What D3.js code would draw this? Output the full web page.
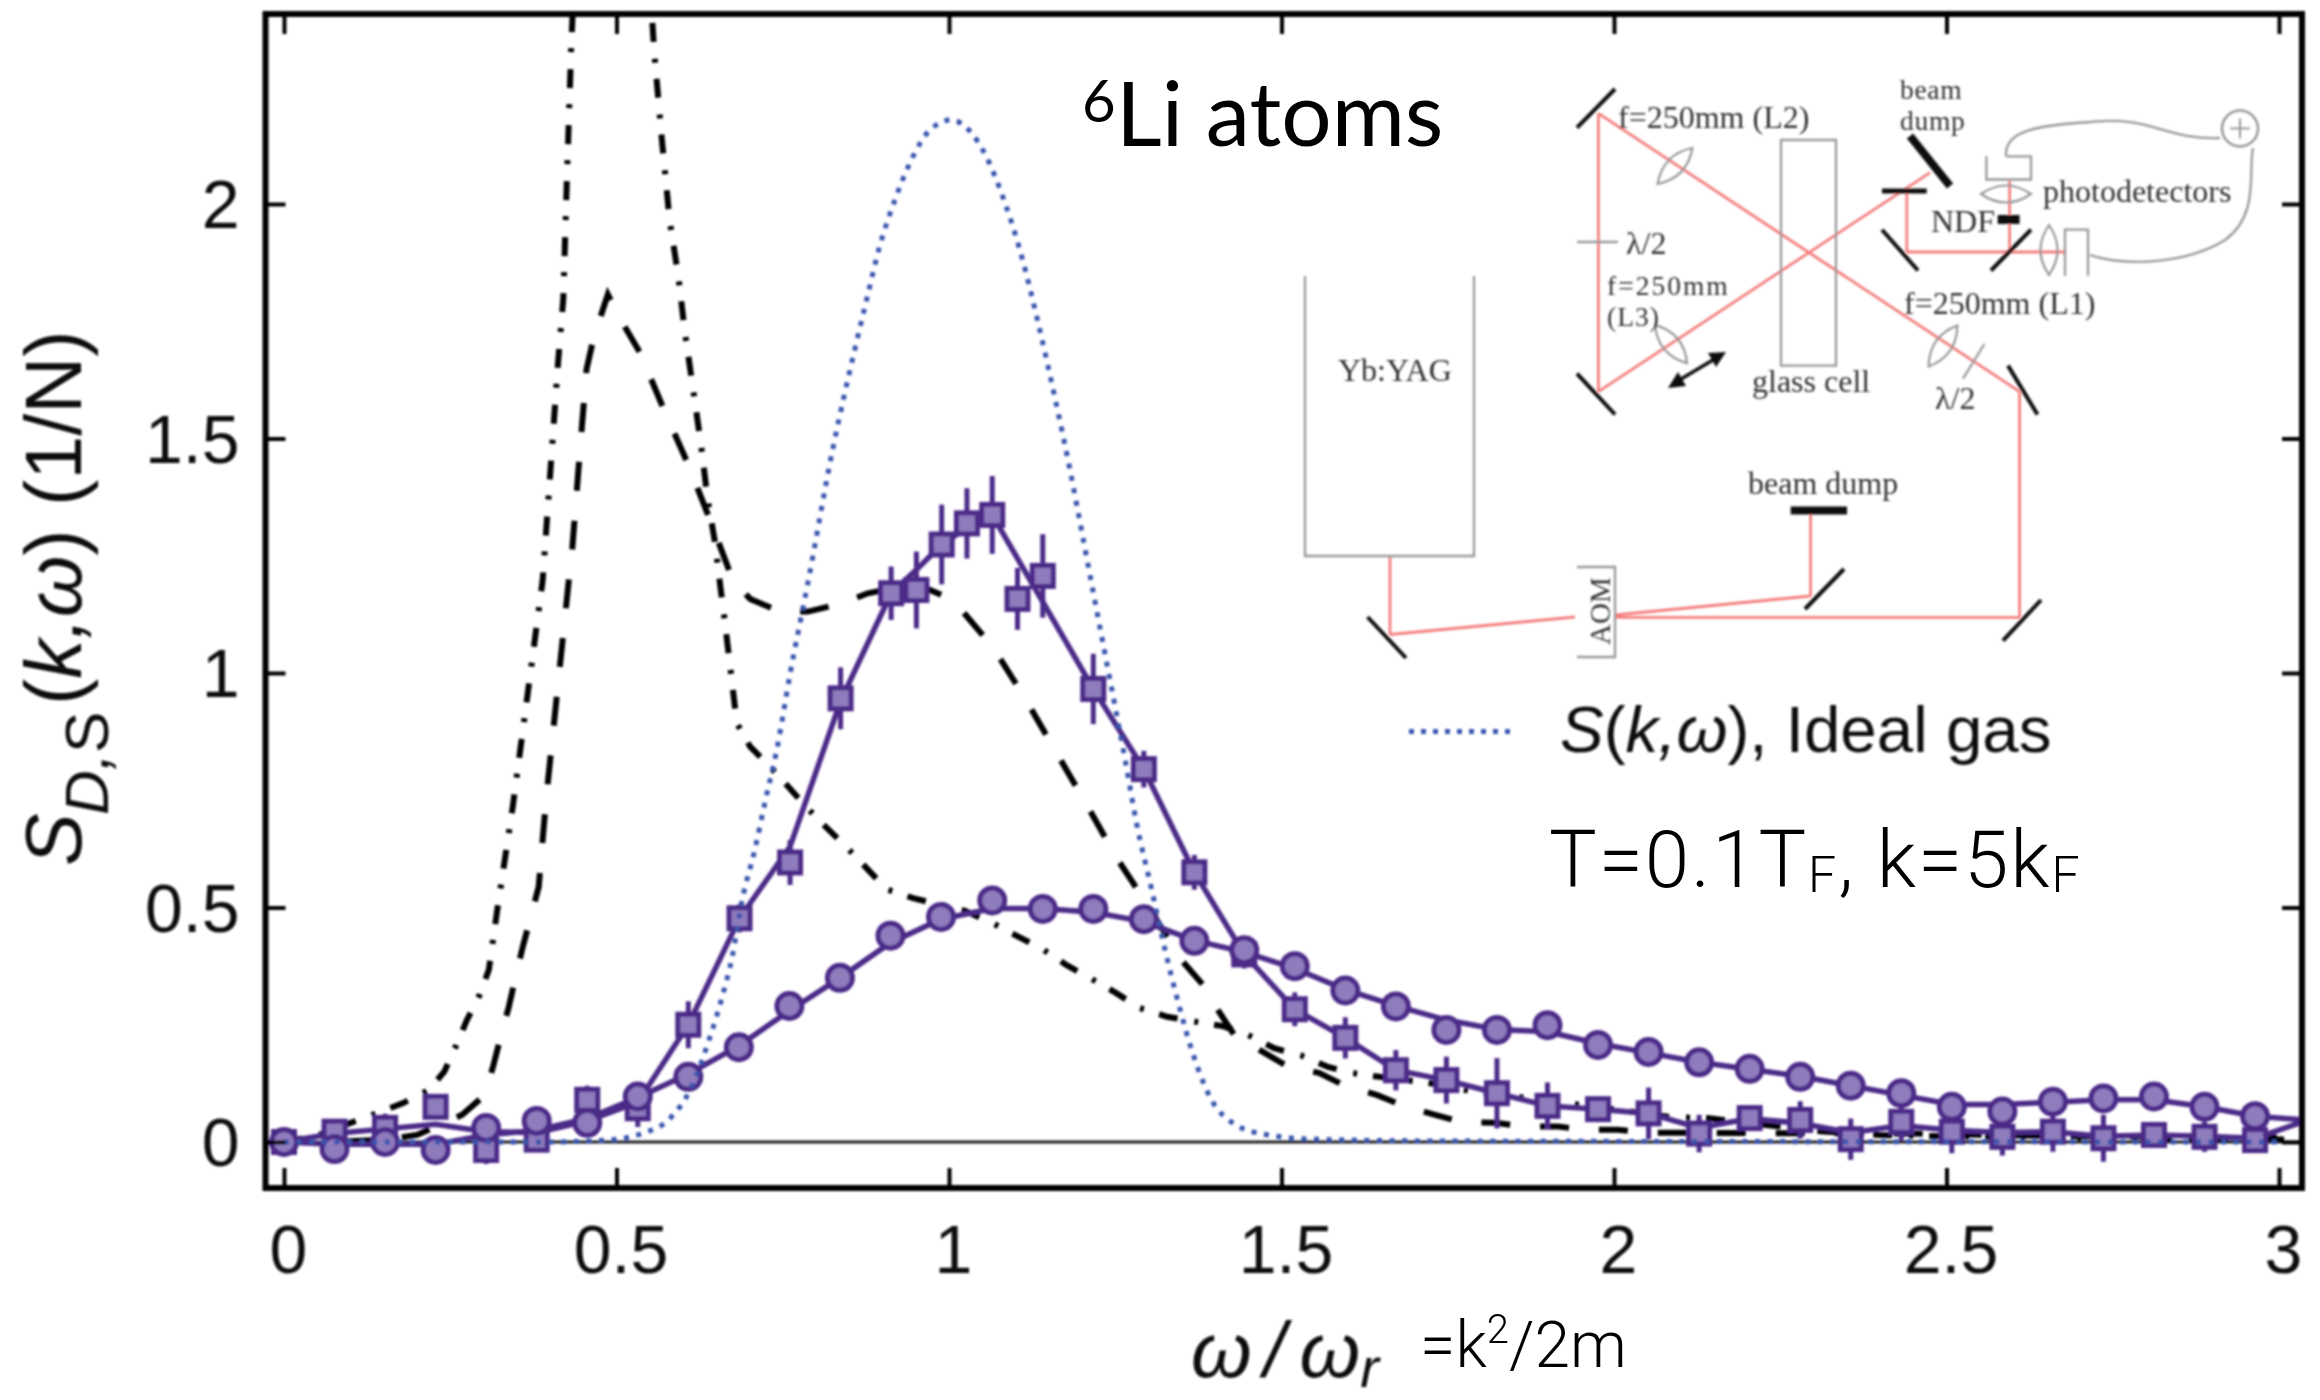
<!DOCTYPE html>
<meta charset="utf-8">
<style>
body { margin: 0; background: #fff; }
svg { display: block; }
.tick text { font-family: "Liberation Sans", sans-serif; font-size: 68px; fill: #111; }
.tick line { stroke: #000; stroke-width: 4; }
.diagram text { font-family: "Liberation Serif", serif; font-size: 32px; fill: #333; }
</style>
<svg width="2320" height="1400"></svg>
<script src="https://d3js.org/d3.v7.min.js"></script>
<script>

// values
var xTicks = [0, 0.5, 1, 1.5, 2, 2.5, 3];
var xTickLabels = ["0", "0.5", "1", "1.5", "2", "2.5", "3"];
var yTicks = [0, 0.5, 1, 1.5, 2];
var yTickLabels = ["0", "0.5", "1", "1.5", "2"];

var circleX = [0, .076, .152, .228, .304, .38, .456, .532, .608, .684, .76, .836, .912, .988, 1.065, 1.141, 1.217, 1.293, 1.369, 1.444, 1.52, 1.596, 1.672, 1.748, 1.824, 1.9, 1.976, 2.052, 2.128, 2.204, 2.28, 2.356, 2.432, 2.508, 2.584, 2.66, 2.736, 2.812, 2.888, 2.964];
var circleY = [0, -.015, 0, -.017, .03, .045, .041, .097, .139, .202, .29, .35, .44, .48, .515, .497, .497, .475, .429, .409, .375, .323, .289, .239, .239, .249, .207, .192, .17, .156, .139, .12, .104, .075, .065, .086, .093, .097, .075, .055];
var circleLineX = [0, .076, .152, .228, .304, .38, .456, .532, .608, .684, .76, .836, .912, .988, 1.065, 1.141, 1.217, 1.293, 1.369, 1.444, 1.52, 1.596, 1.672, 1.748, 1.824, 1.9, 1.976, 2.052, 2.128, 2.204, 2.28, 2.356, 2.432, 2.508, 2.584, 2.66, 2.736, 2.812, 2.888, 2.964, 3.04];
var circleLineY = [0, -.005, -.005, -.005, .015, .025, .05, .095, .145, .205, .28, .35, .425, .475, .498, .498, .49, .47, .43, .405, .37, .325, .29, .26, .24, .235, .21, .19, .17, .155, .14, .12, .1, .08, .08, .085, .09, .09, .075, .055, .047];

var squareX = [0, .076, .152, .228, .304, .38, .456, .532, .608, .685, .761, .837, .913, .951, .989, 1.027, 1.065, 1.103, 1.141, 1.217, 1.293, 1.369, 1.444, 1.52, 1.596, 1.672, 1.748, 1.824, 1.9, 1.976, 2.052, 2.128, 2.204, 2.28, 2.356, 2.432, 2.508, 2.584, 2.66, 2.736, 2.812, 2.888, 2.964];
var squareY = [0, .022, .03, .075, -.017, .005, .09, .072, .25, .477, .596, .946, 1.17, 1.177, 1.274, 1.319, 1.337, 1.158, 1.207, .966, .795, .575, .4, .283, .222, .153, .132, .104, .077, .07, .061, .018, .051, .047, .006, .043, .022, .011, .022, .008, .015, .011, .004];
var squareErr = [.01, .02, .03, .02, .03, .02, .03, .04, .05, .03, .048, .066, .057, .082, .085, .075, .083, .066, .089, .075, .039, .037, .03, .036, .044, .043, .05, .075, .05, .02, .055, .04, .02, .04, .044, .04, .046, .04, .043, .05, .02, .032, .02];
var squareLineX = [0, .076, .152, .228, .304, .38, .456, .532, .608, .685, .761, .837, .913, .951, .989, 1.027, 1.065, 1.217, 1.293, 1.369, 1.444, 1.52, 1.596, 1.672, 1.748, 1.824, 1.9, 1.976, 2.052, 2.128, 2.204, 2.28, 2.356, 2.432, 2.508, 2.584, 2.66, 2.736, 2.812, 2.888, 2.964, 3.04];
var squareLineY = [0, .018, .028, .038, .022, .02, .045, .085, .25, .477, .63, .94, 1.17, 1.22, 1.274, 1.31, 1.337, .966, .795, .575, .4, .283, .222, .153, .132, .104, .077, .07, .061, .03, .05, .04, .02, .035, .025, .02, .022, .012, .015, .012, .008, .045];

var dashedX = [0, .076, .152, .2, .268, .302, .315, .326, .338, .348, .359, .371, .383, .394, .428, .433, .444, .455, .466, .487, .511, .535, .57, .608, .64, .675, .701, .746, .788, .838, .878, .95, 1.006, 1.066, 1.114, 1.162, 1.207, 1.252, 1.277, 1.352, 1.382, 1.406, 1.429, 1.472, 1.506, 1.557, 1.597, 1.644, 1.684, 1.731, 1.771, 1.822, 1.862, 1.916, 1.956, 2.006, 2.046, 2.2, 2.45, 2.7, 3.03];
var dashedY = [0, 0, .005, .015, .058, .1, .164, .225, .288, .35, .416, .48, .544, .729, 1.194, 1.256, 1.456, 1.648, 1.717, 1.807, 1.742, 1.684, 1.566, 1.444, 1.329, 1.198, 1.158, 1.131, 1.131, 1.148, 1.17, 1.19, 1.156, 1.055, .947, .829, .719, .606, .552, .384, .335, .278, .228, .192, .164, .147, .119, .1, .077, .058, .042, .041, .033, .033, .026, .026, .02, .019, .018, .012, .01];

var dashdotX = [0, .049, .091, .141, .179, .218, .241, .258, .275, .294, .308, .32, .344, .389, .401, .412, .42, .425, .432, .44, .545, .554, .557, .568, .58, .593, .603, .615, .627, .637, .648, .656, .661, .671, .681, .701, .731, .758, .787, .816, .847, .876, .906, .946, 1.024, 1.065, 1.104, 1.14, 1.177, 1.214, 1.251, 1.286, 1.328, 1.369, 1.412, 1.45, 1.489, 1.529, 1.57, 1.607, 1.647, 1.721, 1.775, 2.03, 2.084, 2.14, 2.31, 2.4, 2.5, 3.03];
var dashdotY = [0, .013, .036, .062, .083, .111, .15, .203, .26, .313, .367, .488, .715, 1.198, 1.439, 1.66, 1.798, 2.035, 2.339, 2.6, 2.6, 2.386, 2.32, 2.141, 1.964, 1.846, 1.725, 1.607, 1.488, 1.371, 1.28, 1.186, 1.132, 1.013, .893, .843, .8, .758, .712, .67, .627, .584, .539, .52, .493, .467, .438, .412, .377, .348, .318, .286, .267, .257, .247, .228, .2, .185, .16, .147, .139, .126, .111, .064, .053, .051, .023, .015, .012, .005];

var idealX = [0, .394, .486, .54, .578, .613, .639, .659, .674, .689, .708, .724, .741, .761, .787, .826, .842, .859, .877, .895, .919, .949, .97, 1.003, 1.034, 1.055, 1.084, 1.107, 1.135, 1.16, 1.182, 1.202, 1.222, 1.245, 1.265, 1.282, 1.305, 1.325, 1.345, 1.365, 1.392, 1.432, 1.48, 1.547, 1.75, 3];
var idealY = [0, 0, .004, .019, .047, .118, .217, .31, .395, .516, .623, .729, .836, .998, 1.186, 1.483, 1.589, 1.694, 1.801, 1.906, 2.01, 2.11, 2.156, 2.179, 2.151, 2.104, 2.003, 1.9, 1.741, 1.582, 1.433, 1.284, 1.134, .964, .814, .68, .537, .409, .296, .196, .097, .036, .015, .006, .002, 0];

var purple = "#4b2a88", lilac = "#8f7cbd", blue = "#3a55ad", red = "#f47f7f", grey = "#999";

var svg = d3.select("svg");

var left = 265.5, right = 2302, top_ = 14, bottom = 1188;
var x = d3.scaleLinear().domain([0, 3]).range([284, 2279]);
var y = d3.scaleLinear().domain([0, 2]).range([1142, 204]);

var defs = svg.append("defs");
defs.append("clipPath").attr("id", "frame")
  .append("rect").attr("x", left).attr("y", top_).attr("width", right - left).attr("height", bottom - top_);
// the reference is a soft raster, this takes the hard edge off
defs.append("filter").attr("id", "soft")
  .append("feGaussianBlur").attr("stdDeviation", 0.9);

var chart = svg.append("g").attr("filter", "url(#soft)");

var pairs = function(xs, ys) { return xs.map(function(d, i) { return [d, ys[i]]; }); };
var line = d3.line().x(function(d) { return x(d[0]); }).y(function(d) { return y(d[1]); });

var plot = chart.append("g").attr("clip-path", "url(#frame)");

plot.append("line")
    .attr("x1", left).attr("x2", right).attr("y1", y(0)).attr("y2", y(0))
    .attr("stroke", "#222").attr("stroke-width", 3);

plot.append("path").attr("d", line(pairs(dashedX, dashedY)))
    .attr("fill", "none").attr("stroke", "#000").attr("stroke-width", 6)
    .attr("stroke-dasharray", "29 30");

plot.append("path").attr("d", line(pairs(dashdotX, dashdotY)))
    .attr("fill", "none").attr("stroke", "#000").attr("stroke-width", 6)
    .attr("stroke-dasharray", "19 17 4 16");

// squares
plot.append("path").attr("d", line(pairs(squareLineX, squareLineY)))
    .attr("fill", "none").attr("stroke", purple).attr("stroke-width", 5.5);

var squares = pairs(squareX, squareY).map(function(d, i) { return {x: d[0], y: d[1], e: squareErr[i]}; });

plot.append("g").selectAll("line").data(squares).enter().append("line")
    .attr("x1", function(d) { return x(d.x); })
    .attr("x2", function(d) { return x(d.x); })
    .attr("y1", function(d) { return y(d.y + d.e); })
    .attr("y2", function(d) { return y(d.y - d.e); })
    .attr("stroke", purple).attr("stroke-width", 5);

plot.append("g").selectAll("rect").data(squares).enter().append("rect")
    .attr("x", function(d) { return x(d.x) - 10.5; })
    .attr("y", function(d) { return y(d.y) - 10.5; })
    .attr("width", 21).attr("height", 21)
    .attr("fill", lilac).attr("stroke", purple).attr("stroke-width", 5);

// circles
plot.append("path").attr("d", line(pairs(circleLineX, circleLineY)))
    .attr("fill", "none").attr("stroke", purple).attr("stroke-width", 5.5);

plot.append("g").selectAll("circle").data(pairs(circleX, circleY)).enter().append("circle")
    .attr("cx", function(d) { return x(d[0]); })
    .attr("cy", function(d) { return y(d[1]); })
    .attr("r", 12.5)
    .attr("fill", lilac).attr("stroke", purple).attr("stroke-width", 5);

// ideal gas goes over everything
plot.append("path")
    .attr("d", d3.line().curve(d3.curveMonotoneX).x(function(d) { return x(d[0]); }).y(function(d) { return y(d[1]); })(pairs(idealX, idealY)))
    .attr("fill", "none").attr("stroke", blue).attr("stroke-width", 5)
    .attr("stroke-dasharray", "5 7.6");

// axes, ticks point inwards on all four sides
var xAxis = d3.axisBottom(x).tickValues(xTicks).tickSizeInner(-20).tickSizeOuter(0)
    .tickFormat(function(d, i) { return xTickLabels[i]; });
var yAxis = d3.axisLeft(y).tickValues(yTicks).tickSizeInner(-20).tickSizeOuter(0)
    .tickFormat(function(d, i) { return yTickLabels[i]; });

var gx = chart.append("g").attr("transform", "translate(0," + bottom + ")").call(xAxis);
gx.selectAll("text").attr("y", 85).attr("dy", 0).attr("dx", 4);
var gy = chart.append("g").attr("class", "y-axis").attr("transform", "translate(" + left + ",0)").call(yAxis);
gy.selectAll("text").attr("x", -26).attr("dy", "0.35em");

chart.append("g").attr("transform", "translate(0," + top_ + ")")
    .call(d3.axisTop(x).tickValues(xTicks).tickSizeInner(-20).tickSizeOuter(0).tickFormat(""));
chart.append("g").attr("transform", "translate(" + right + ",0)")
    .call(d3.axisRight(y).tickValues(yTicks).tickSizeInner(-20).tickSizeOuter(0).tickFormat(""));
chart.selectAll(".domain").remove();

chart.append("rect")
    .attr("x", left).attr("y", top_).attr("width", right - left).attr("height", bottom - top_)
    .attr("fill", "none").attr("stroke", "#000").attr("stroke-width", 6);

// y label
var yLabel = chart.append("text")
    .attr("transform", "translate(81,866) rotate(-90)")
    .attr("font-family", "Liberation Sans").attr("font-size", 79).attr("fill", "#111");
yLabel.append("tspan").attr("x", 0).attr("font-style", "italic").text("S");
yLabel.append("tspan").attr("x", 51).attr("dy", 27).attr("font-size", 62).attr("font-style", "italic").text("D,");
yLabel.append("tspan").attr("font-size", 62).text("S");
yLabel.append("tspan").attr("x", 161).attr("dy", -27).text("(");
yLabel.append("tspan").attr("font-style", "italic").text("k,ω");
yLabel.append("tspan").text(")");
yLabel.append("tspan").attr("x", 360).text("(1/N)");

// x label
var xLabel = chart.append("text")
    .attr("x", 1191).attr("y", 1377)
    .attr("font-family", "Liberation Sans").attr("font-style", "italic").attr("font-size", 78).attr("fill", "#111");
xLabel.append("tspan").text("ω");
xLabel.append("tspan").attr("dx", 12).text("/");
xLabel.append("tspan").attr("dx", 14).text("ω");
xLabel.append("tspan").attr("dy", 10).attr("font-size", 56).text("r");

// legend
chart.append("line")
    .attr("x1", 1409).attr("x2", 1516).attr("y1", 731.5).attr("y2", 731.5)
    .attr("stroke", blue).attr("stroke-width", 5).attr("stroke-dasharray", "5 7");
var legend = chart.append("text")
    .attr("x", 1560).attr("y", 752)
    .attr("font-family", "Liberation Sans").attr("font-size", 65.5).attr("fill", "#111");
legend.append("tspan").attr("font-style", "italic").text("S");
legend.append("tspan").text("(");
legend.append("tspan").attr("font-style", "italic").text("k,ω");
legend.append("tspan").text("), Ideal gas");

// slide annotations, these are crisp in the reference
var title = svg.append("text").attr("font-family", "Lato").attr("fill", "#000");
title.append("tspan").attr("x", 1082).attr("y", 122).attr("font-size", 58).text("6");
title.append("tspan").attr("x", 1116).attr("y", 146).attr("font-size", 89).text("Li atoms");

var params = svg.append("text")
    .attr("font-family", "Roboto").attr("font-weight", 300).attr("font-size", 80).attr("fill", "#000")
    .attr("letter-spacing", 1.9)
    .attr("x", 1549).attr("y", 887);
params.append("tspan").text("T=0.1T");
params.append("tspan").attr("font-size", 50).attr("dy", 5).text("F");
params.append("tspan").attr("dy", -5).text(", k=5k");
params.append("tspan").attr("font-size", 50).attr("dy", 5).text("F");

var eqn = svg.append("text")
    .attr("font-family", "Roboto").attr("font-weight", 300).attr("font-size", 64).attr("fill", "#000")
    .attr("x", 1420).attr("y", 1367);
eqn.append("tspan").text("=k");
eqn.append("tspan").attr("font-size", 40).attr("dy", -24).text("2");
eqn.append("tspan").attr("dy", 24).text("/2m");

// optical setup inset
var beamLines = [
  [1390, 556, 1390, 634.5], [1390, 634.5, 1575, 617], [1615, 615, 1810.6, 596], [1810.6, 596, 1810.6, 513],
  [1615, 617.4, 2019.6, 617.4], [2019.6, 617.4, 2019.6, 391.7], [2019.6, 391.7, 1598.4, 113.4],
  [1598.4, 113.4, 1598.4, 391.7], [1598.4, 391.7, 1930, 172.6], [1906.8, 191, 1906.8, 252],
  [1906.8, 252, 2066, 252], [2009.6, 180.8, 2009.6, 252]
];
var mirrorLines = [
  [1577, 127.7, 1615, 89, 4], [1577, 373.7, 1615, 414.5, 4], [2008, 365.6, 2037.5, 414.5, 4],
  [2003, 640.6, 2041, 600, 4], [1805, 609, 1844, 569, 4], [1367.6, 617, 1406, 658, 4],
  [1882, 229.7, 1918, 270.5, 4], [1991, 270.5, 2031, 229.7, 4], [1882, 191, 1926.7, 191, 5],
  [1910, 136, 1950, 186, 8], [1790.7, 510.4, 1847, 510.4, 8], [1997.7, 219.5, 2019.6, 219.5, 9]
];
var greyPaths = [
  "M1305,276V556H1474V276", "M1781,140H1836V365.6H1781Z", "M1577,567H1615V657H1577",
  "M1577,242H1618", "M1984.4,344L1963,378.6",
  "M2006,156.3H2031V179.5H1986.4V156.3", "M2065,275.8V229.7H2088V275.8M2065,252",
  "M2006,156C2004,130 2040,125 2090,122C2150,115 2165,140 2220,138",
  "M2090,255C2130,268 2190,262 2225,240C2260,215 2248,170 2253,148"
];
var lenses = [[1675, 166, 46], [1671, 344, -50], [1943, 346, 55], [2006, 194, 0], [2049, 250, 90]];
var diagramLabels = [
  ["f=250mm (L2)", 1618, 128], ["photodetectors", 2043, 202],
  ["NDF", 1931, 232], ["λ/2", 1626, 254],
  ["f=250mm (L1)", 1904, 314], ["glass cell", 1752, 392], ["λ/2", 1935, 409], ["beam dump", 1748, 494],
  ["Yb:YAG", 1338, 381]
];
// two line labels sit tight, smaller type spaced out to the same width
var tightLabels = [
  ["beam", 1900, 99, 0.7], ["dump", 1900, 130, 0.7], ["f=250mm", 1607, 295, 2], ["(L3)", 1607, 326, 1]
];

var diagram = svg.append("g").attr("class", "diagram").attr("filter", "url(#soft)");

diagram.selectAll(".beam").data(beamLines).enter().append("line").attr("class", "beam")
    .attr("x1", function(d) { return d[0]; }).attr("y1", function(d) { return d[1]; })
    .attr("x2", function(d) { return d[2]; }).attr("y2", function(d) { return d[3]; })
    .attr("stroke", red).attr("stroke-width", 2.8);

diagram.selectAll(".gray").data(greyPaths).enter().append("path").attr("class", "gray")
    .attr("d", function(d) { return d; })
    .attr("fill", "none").attr("stroke", grey).attr("stroke-width", 2.3);

// lenses come to a point at both ends
diagram.selectAll(".lens").data(lenses).enter().append("path").attr("class", "lens")
    .attr("d", "M-25,0Q0,-17 25,0Q0,17 -25,0Z")
    .attr("transform", function(d) { return "translate(" + d[0] + "," + d[1] + ") rotate(" + (-d[2]) + ")"; })
    .attr("fill", "none").attr("stroke", grey).attr("stroke-width", 2.2);

diagram.append("circle").attr("cx", 2240).attr("cy", 128.5).attr("r", 18)
    .attr("fill", "none").attr("stroke", grey).attr("stroke-width", 2.5);
diagram.append("path").attr("d", "M2230,128.5H2250M2240,118.5V138.5")
    .attr("stroke", grey).attr("stroke-width", 2);

diagram.selectAll(".mirror").data(mirrorLines).enter().append("line").attr("class", "mirror")
    .attr("x1", function(d) { return d[0]; }).attr("y1", function(d) { return d[1]; })
    .attr("x2", function(d) { return d[2]; }).attr("y2", function(d) { return d[3]; })
    .attr("stroke", "#111").attr("stroke-width", function(d) { return d[4]; });

// double arrow next to L3
diagram.append("path").attr("d", "M1676,382L1718,357").attr("stroke", "#111").attr("stroke-width", 3.5);
diagram.append("path").attr("d", "M1668,388L1686,386L1678,372Z M1726,352L1708,353L1716,367Z").attr("fill", "#111");

diagram.selectAll(".lbl").data(diagramLabels).enter().append("text").attr("class", "lbl")
    .attr("x", function(d) { return d[1]; }).attr("y", function(d) { return d[2]; })
    .text(function(d) { return d[0]; });

diagram.selectAll(".tight").data(tightLabels).enter().append("text").attr("class", "tight")
    .attr("x", function(d) { return d[1]; }).attr("y", function(d) { return d[2]; })
    .attr("letter-spacing", function(d) { return d[3]; })
    .style("font-size", "27.5px")
    .text(function(d) { return d[0]; });

diagram.append("text").attr("transform", "translate(1610,645) rotate(-90)").style("font-size", "29px").text("AOM");

</script>
